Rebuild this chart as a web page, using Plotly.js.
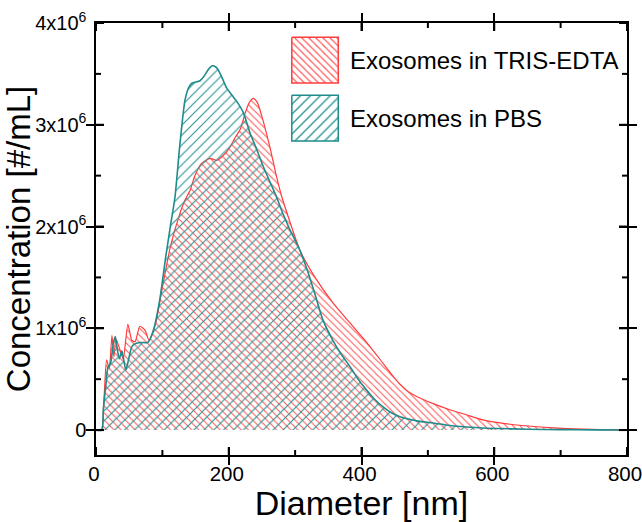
<!DOCTYPE html>
<html>
<head>
<meta charset="utf-8">
<script src="https://cdn.plot.ly/plotly-3.0.1.min.js"></script>
<style>html,body{margin:0;padding:0;background:#fff;}#chart{width:642px;height:522px;}</style>
</head>
<body>
<div id="chart"></div>
<script>
// Diameter [nm] and concentration [x10^6 #/mL]
const trisDiameter = [0, 8, 12, 16, 20, 24, 27, 30, 36, 41, 48, 54, 59, 66, 74, 80, 90, 100, 112, 125, 134, 142, 149, 159, 172, 182, 192, 202, 210, 217, 225, 231, 237, 243, 250, 262, 272, 280, 292, 307, 330, 357, 383, 408, 432, 445, 458, 470, 483, 508, 533, 558, 583, 609, 634, 670, 709, 760, 800];
const trisConc = [0, 0, 0.3, 0.69, 0.6, 0.93, 0.72, 0.9, 0.79, 0.7, 1.04, 0.88, 0.87, 1.02, 0.98, 0.88, 1.05, 1.4, 1.8, 2.1, 2.26, 2.36, 2.5, 2.62, 2.67, 2.65, 2.7, 2.78, 2.88, 2.95, 3.12, 3.22, 3.26, 3.22, 3.08, 2.78, 2.49, 2.29, 2.05, 1.77, 1.5, 1.25, 1.05, 0.86, 0.66, 0.55, 0.45, 0.38, 0.33, 0.26, 0.2, 0.15, 0.1, 0.07, 0.05, 0.03, 0.015, 0.005, 0];

const pbsDiameter = [0, 9, 11, 15, 18, 22, 26, 29, 32, 35, 39, 42, 45, 50, 54, 60, 66, 72, 78, 86, 96, 105, 112, 119, 126, 134, 140, 145, 150, 156, 163, 170, 175, 180, 184, 190, 197, 205, 212, 222, 232, 242, 252, 262, 272, 282, 292, 307, 322, 332, 342, 357, 370, 383, 395, 408, 420, 432, 445, 458, 483, 508, 533, 558, 583, 609, 650, 700, 750, 800];
const pbsConc = [0, 0, 0.2, 0.45, 0.62, 0.66, 0.85, 0.92, 0.8, 0.7, 0.78, 0.68, 0.59, 0.72, 0.82, 0.85, 0.86, 0.86, 0.86, 0.97, 1.28, 1.7, 2.0, 2.29, 2.78, 3.24, 3.37, 3.41, 3.42, 3.43, 3.48, 3.55, 3.58, 3.57, 3.54, 3.46, 3.36, 3.29, 3.23, 3.12, 2.92, 2.76, 2.59, 2.44, 2.29, 2.12, 1.97, 1.77, 1.5, 1.29, 1.08, 0.88, 0.74, 0.62, 0.5, 0.39, 0.3, 0.23, 0.17, 0.13, 0.09, 0.07, 0.045, 0.03, 0.02, 0.015, 0.008, 0.004, 0.002, 0];

const seriesNames = ['Exosomes in TRIS-EDTA', 'Exosomes in PBS'];
const xTickVals = [0, 200, 400, 600, 800];
const xMinorVals = [100, 300, 500, 700];
const yTickVals = [0, 1e6, 2e6, 3e6, 4e6];
const yMinorVals = [0.5e6, 1.5e6, 2.5e6, 3.5e6];
const yTickText = ['0', '1x10<sup>6</sup>', '2x10<sup>6</sup>', '3x10<sup>6</sup>', '4x10<sup>6</sup>'];

// legend swatch boxes, in axis units (decoration only)
const swatchX = [295, 365];
const swatchRedY = [3.41e6, 3.86e6];
const swatchTealY = [2.84e6, 3.29e6];

const RED = 'rgb(255,60,60)';
const TEAL = 'rgb(30,140,140)';
const FONT = 'Liberation Sans, Arial, sans-serif';
const scale = v => v.map(c => c * 1e6);
const box = (xr, yr) => ({x: [xr[0], xr[1], xr[1], xr[0], xr[0]], y: [yr[1], yr[1], yr[0], yr[0], yr[1]]});

const redBox = box(swatchX, swatchRedY);
const tealBox = box(swatchX, swatchTealY);

// tick marks as line traces on overlay axes (x2: data x vs paper-like y; y2: paper-like x vs data y)
function tickTraceX(vals, len, side) {
  const xs = [], ys = [];
  vals.forEach(v => { xs.push(v, v, null); ys.push(side, side === 0 ? len : 1 - len, null); });
  return {x: xs, y: ys, xaxis: 'x', yaxis: 'y3', type: 'scatter', mode: 'lines',
    line: {color: 'black', width: 2}, showlegend: false, hoverinfo: 'skip', cliponaxis: false};
}
function tickTraceY(vals, len, side) {
  const xs = [], ys = [];
  vals.forEach(v => { ys.push(v, v, null); xs.push(side, side === 0 ? len : 1 - len, null); });
  return {x: xs, y: ys, xaxis: 'x3', yaxis: 'y', type: 'scatter', mode: 'lines',
    line: {color: 'black', width: 2}, showlegend: false, hoverinfo: 'skip', cliponaxis: false};
}
const majLenX = 8 / 432, minLenX = 5 / 432, majLenY = 8 / 531, minLenY = 5 / 531;

const traces = [
  {
    x: trisDiameter, y: scale(trisConc), type: 'scatter', mode: 'lines',
    line: {color: RED, width: 1.2, shape: 'spline', smoothing: 0.6},
    fill: 'tozeroy', fillcolor: 'rgba(0,0,0,0)',
    fillpattern: {shape: '\\', fgcolor: 'rgb(255,80,80)', bgcolor: 'rgba(0,0,0,0)', size: 5, solidity: 0.2, fgopacity: 1},
    showlegend: false, hoverinfo: 'skip'
  },
  {
    x: pbsDiameter, y: scale(pbsConc), type: 'scatter', mode: 'lines',
    line: {color: TEAL, width: 1.6, shape: 'spline', smoothing: 0.6},
    fill: 'tozeroy', fillcolor: 'rgba(0,0,0,0)',
    fillpattern: {shape: '/', fgcolor: 'rgb(50,150,150)', bgcolor: 'rgba(0,0,0,0)', size: 7, solidity: 0.17, fgopacity: 1},
    showlegend: false, hoverinfo: 'skip'
  },
  {
    x: redBox.x, y: redBox.y, type: 'scatter', mode: 'lines', fill: 'toself', fillcolor: 'rgba(0,0,0,0)',
    line: {color: RED, width: 1.5},
    fillpattern: {shape: '\\', fgcolor: 'rgb(255,80,80)', bgcolor: 'rgba(0,0,0,0)', size: 5, solidity: 0.22},
    showlegend: false, hoverinfo: 'skip'
  },
  {
    x: tealBox.x, y: tealBox.y, type: 'scatter', mode: 'lines', fill: 'toself', fillcolor: 'rgba(0,0,0,0)',
    line: {color: TEAL, width: 1.5},
    fillpattern: {shape: '/', fgcolor: 'rgb(50,150,150)', bgcolor: 'rgba(0,0,0,0)', size: 7, solidity: 0.2},
    showlegend: false, hoverinfo: 'skip'
  },
  tickTraceX(xTickVals, majLenX, 0), tickTraceX(xTickVals, majLenX, 1),
  tickTraceX(xMinorVals, minLenX, 0), tickTraceX(xMinorVals, minLenX, 1),
  tickTraceY(yTickVals, majLenY, 0), tickTraceY(yTickVals, majLenY, 1),
  tickTraceY(yMinorVals, minLenY, 0), tickTraceY(yMinorVals, minLenY, 1)
];

const axisCommon = {
  showline: true, linecolor: 'black', linewidth: 1.6, mirror: 'allticks',
  ticks: 'inside', ticklen: 8, tickwidth: 2, tickcolor: 'black',
  showgrid: false, zeroline: false,
  tickfont: {family: FONT, size: 21, color: 'black'}
};

const layout = {
  width: 642, height: 522,
  margin: {l: 96, r: 15, t: 23, b: 67},
  paper_bgcolor: 'white', plot_bgcolor: 'white',
  font: {family: FONT, color: 'black'},
  showlegend: false,
  xaxis: Object.assign({}, axisCommon, {
    range: [0, 800], tickmode: 'array', tickvals: xTickVals,
    ticklabeloverflow: 'allow', ticklabelshift: -2,
    tickfont: {family: FONT, size: 20.5, color: 'black'},
    title: {text: 'Diameter [nm]', font: {family: FONT, size: 34, color: 'black'}, standoff: 5}
  }),
  yaxis: Object.assign({}, axisCommon, {
    range: [-0.245e6, 4e6], tickmode: 'array', tickvals: yTickVals, ticktext: yTickText,
    tickfont: {family: FONT, size: 20, color: 'black'},
    ticklabelstandoff: 4,
    title: {text: 'Concentration [#/mL]', font: {family: FONT, size: 33, color: 'black'}, standoff: 2}
  }),
  xaxis3: {overlaying: 'x', anchor: 'y', range: [0, 1], visible: false, fixedrange: true},
  yaxis3: {overlaying: 'y', anchor: 'x', range: [0, 1], visible: false, fixedrange: true},
  annotations: [
    {xref: 'paper', yref: 'paper', x: 0.4745, y: 0.913, xanchor: 'left', yanchor: 'middle', showarrow: false,
     text: seriesNames[0], font: {family: FONT, size: 24, color: 'black'}},
    {xref: 'paper', yref: 'paper', x: 0.4745, y: 0.779, xanchor: 'left', yanchor: 'middle', showarrow: false,
     text: seriesNames[1], font: {family: FONT, size: 24, color: 'black'}}
  ]
};

Plotly.newPlot('chart', traces, layout, {displayModeBar: false, staticPlot: true});
</script>
</body>
</html>
